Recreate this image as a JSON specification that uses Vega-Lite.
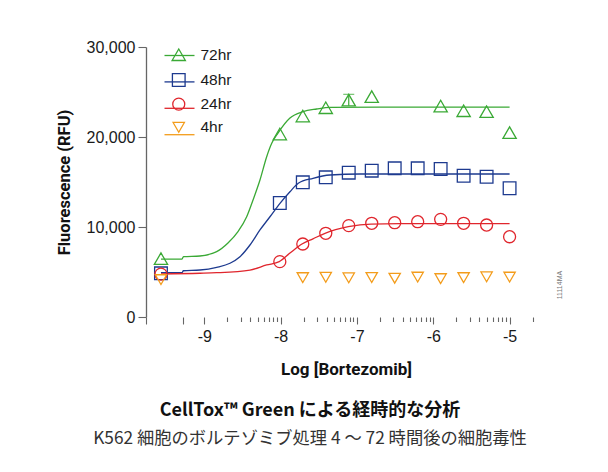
{
  "$schema": "https://vega.github.io/schema/vega-lite/v6.json",
  "width": 400,
  "height": 270,
  "autosize": {"type": "none"},
  "padding": {"left": 146, "top": 47, "right": 62, "bottom": 155},
  "background": "white",
  "config": {
    "view": {"stroke": null},
    "axis": {"grid": false, "labelFont": "Liberation Sans", "labelColor": "#1a1a1a", "domainColor": "#666", "tickColor": "#666", "titleColor": "#111"}
  },
  "title": {
    "text": "CellTox™ Green による経時的な分析",
    "subtitle": "K562 細胞のボルテゾミブ処理 4 ～ 72 時間後の細胞毒性",
    "orient": "bottom", "anchor": "middle", "frame": "group", "dx": -36, "offset": 25,
    "font": "Noto Sans CJK JP", "fontSize": 18, "fontWeight": "bold", "color": "#111",
    "subtitleFont": "Noto Sans CJK JP", "subtitleFontSize": 17.3, "subtitleColor": "#333", "subtitlePadding": 10
  },
  "datasets": {
    "axisline": [
      {"x": -9.763, "x2": -9.274},
      {"x": -9.0, "x2": -4.523}
    ],
    "curves": [
      {"series": "72hr", "x": -9.567, "y": 6440},
      {"series": "72hr", "x": -9.291, "y": 6440},
      {"series": "72hr", "x": -9.272, "y": 6700},
      {"series": "72hr", "x": -9.056, "y": 6780},
      {"series": "72hr", "x": -8.837, "y": 7260},
      {"series": "72hr", "x": -8.689, "y": 8220},
      {"series": "72hr", "x": -8.558, "y": 9480},
      {"series": "72hr", "x": -8.444, "y": 11140},
      {"series": "72hr", "x": -8.361, "y": 13000},
      {"series": "72hr", "x": -8.27, "y": 15220},
      {"series": "72hr", "x": -8.182, "y": 17810},
      {"series": "72hr", "x": -8.116, "y": 19300},
      {"series": "72hr", "x": -8.034, "y": 20440},
      {"series": "72hr", "x": -7.877, "y": 22110},
      {"series": "72hr", "x": -7.706, "y": 22810},
      {"series": "72hr", "x": -7.527, "y": 23110},
      {"series": "72hr", "x": -7.353, "y": 23300},
      {"series": "72hr", "x": -6.7, "y": 23330},
      {"series": "72hr", "x": -5.0, "y": 23330},
      {"series": "48hr", "x": -9.567, "y": 4920},
      {"series": "48hr", "x": -9.291, "y": 4920},
      {"series": "48hr", "x": -9.274, "y": 5140},
      {"series": "48hr", "x": -9.056, "y": 5220},
      {"series": "48hr", "x": -8.837, "y": 5520},
      {"series": "48hr", "x": -8.663, "y": 5970},
      {"series": "48hr", "x": -8.532, "y": 6700},
      {"series": "48hr", "x": -8.401, "y": 8000},
      {"series": "48hr", "x": -8.27, "y": 9670},
      {"series": "48hr", "x": -8.139, "y": 11140},
      {"series": "48hr", "x": -8.008, "y": 12630},
      {"series": "48hr", "x": -7.877, "y": 13920},
      {"series": "48hr", "x": -7.768, "y": 14860},
      {"series": "48hr", "x": -7.575, "y": 15410},
      {"series": "48hr", "x": -7.353, "y": 15780},
      {"series": "48hr", "x": -6.96, "y": 15890},
      {"series": "48hr", "x": -5.0, "y": 15890},
      {"series": "24hr", "x": -9.567, "y": 4780},
      {"series": "24hr", "x": -9.056, "y": 4860},
      {"series": "24hr", "x": -8.837, "y": 4920},
      {"series": "24hr", "x": -8.401, "y": 5220},
      {"series": "24hr", "x": -8.182, "y": 5780},
      {"series": "24hr", "x": -8.017, "y": 6150},
      {"series": "24hr", "x": -7.877, "y": 7100},
      {"series": "24hr", "x": -7.72, "y": 8110},
      {"series": "24hr", "x": -7.576, "y": 8680},
      {"series": "24hr", "x": -7.418, "y": 9300},
      {"series": "24hr", "x": -7.113, "y": 10030},
      {"series": "24hr", "x": -6.816, "y": 10330},
      {"series": "24hr", "x": -6.44, "y": 10370},
      {"series": "24hr", "x": -5.0, "y": 10370}
    ],
    "points": [
      {"series": "72hr", "x": -9.567, "y": 6480},
      {"series": "72hr", "x": -8.01, "y": 20330},
      {"series": "72hr", "x": -7.709, "y": 22330},
      {"series": "72hr", "x": -7.408, "y": 23250},
      {"series": "72hr", "x": -7.107, "y": 24100},
      {"series": "72hr", "x": -6.806, "y": 24480},
      {"series": "72hr", "x": -5.903, "y": 23440},
      {"series": "72hr", "x": -5.602, "y": 22920},
      {"series": "72hr", "x": -5.301, "y": 22810},
      {"series": "72hr", "x": -5.0, "y": 20480},
      {"series": "48hr", "x": -9.567, "y": 4850},
      {"series": "48hr", "x": -8.01, "y": 12670},
      {"series": "48hr", "x": -7.709, "y": 14960},
      {"series": "48hr", "x": -7.408, "y": 15520},
      {"series": "48hr", "x": -7.107, "y": 16040},
      {"series": "48hr", "x": -6.806, "y": 16260},
      {"series": "48hr", "x": -6.505, "y": 16520},
      {"series": "48hr", "x": -6.204, "y": 16520},
      {"series": "48hr", "x": -5.903, "y": 16440},
      {"series": "48hr", "x": -5.602, "y": 15700},
      {"series": "48hr", "x": -5.301, "y": 15590},
      {"series": "48hr", "x": -5.0, "y": 14300},
      {"series": "24hr", "x": -9.567, "y": 4760},
      {"series": "24hr", "x": -8.01, "y": 6150},
      {"series": "24hr", "x": -7.709, "y": 8110},
      {"series": "24hr", "x": -7.408, "y": 9300},
      {"series": "24hr", "x": -7.107, "y": 10150},
      {"series": "24hr", "x": -6.806, "y": 10410},
      {"series": "24hr", "x": -6.505, "y": 10480},
      {"series": "24hr", "x": -6.204, "y": 10590},
      {"series": "24hr", "x": -5.903, "y": 10850},
      {"series": "24hr", "x": -5.602, "y": 10410},
      {"series": "24hr", "x": -5.301, "y": 10220},
      {"series": "24hr", "x": -5.0, "y": 8920},
      {"series": "4hr", "x": -9.567, "y": 4150},
      {"series": "4hr", "x": -7.709, "y": 4370},
      {"series": "4hr", "x": -7.408, "y": 4410},
      {"series": "4hr", "x": -7.107, "y": 4350},
      {"series": "4hr", "x": -6.806, "y": 4380},
      {"series": "4hr", "x": -6.505, "y": 4300},
      {"series": "4hr", "x": -6.204, "y": 4430},
      {"series": "4hr", "x": -5.903, "y": 4260},
      {"series": "4hr", "x": -5.602, "y": 4370},
      {"series": "4hr", "x": -5.301, "y": 4460},
      {"series": "4hr", "x": -5.0, "y": 4430}
    ],
    "errors": [
      {"series": "72hr", "x": -7.107, "lo": 23460, "hi": 24740}
    ],
    "note": [
      {"x": -4.34, "y": 3550, "label": "11114MA"}
    ]
  },
  "encoding": {
    "x": {
      "field": "x", "type": "quantitative",
      "scale": {"domain": [-9.763, -4.523], "nice": false, "zero": false},
      "axis": {
        "title": "Log [Bortezomib]",
        "domain": false,
        "values": [-9.763, -9.274, -9, -8.69897, -8.52288, -8.39794, -8.30103, -8.22185, -8.1549, -8.09691, -8.04576, -8, -7.69897, -7.52288, -7.39794, -7.30103, -7.22185, -7.1549, -7.09691, -7.04576, -7, -6.69897, -6.52288, -6.39794, -6.30103, -6.22185, -6.1549, -6.09691, -6.04576, -6, -5.69897, -5.52288, -5.39794, -5.30103, -5.22185, -5.1549, -5.09691, -5.04576, -5, -4.69897, -4.52288],
        "labelExpr": "abs(datum.value - round(datum.value)) < 0.001 ? toString(round(datum.value)) : ''",
        "labelOverlap": false, "labelFlush": false, "labelBound": false,
        "tickSize": {"condition": {"test": "abs(datum.value - round(datum.value)) < 0.001 || datum.value < -9.1", "value": 7}, "value": 4.5},
        "tickWidth": 1.1,
        "labelFontSize": 16, "labelPadding": 4,
        "titleFont": "Roboto",
        "titleFontSize": 17, "titleFontWeight": "bold", "titlePadding": 17
      }
    },
    "y": {
      "field": "y", "type": "quantitative",
      "scale": {"domain": [0, 30000], "nice": false},
      "axis": {
        "title": "Fluorescence (RFU)",
        "values": [0, 10000, 20000, 30000], "format": ",d",
        "labelOverlap": false, "labelFlush": false,
        "tickSize": 8, "tickWidth": 1.1, "domainWidth": 1.3,
        "labelFontSize": 16, "labelPadding": 3,
        "titleFont": "Roboto",
        "titleFontSize": 16.5, "titleFontWeight": "bold", "titlePadding": 14
      }
    }
  },
  "layer": [
    {
      "data": {"name": "axisline"},
      "mark": {"type": "rule", "color": "#666", "strokeWidth": 1.3},
      "encoding": {"x2": {"field": "x2"}, "y": {"datum": 0}}
    },
    {
      "data": {"name": "curves"},
      "mark": {"type": "line", "interpolate": "monotone", "strokeWidth": 1.3},
      "encoding": {
        "color": {
          "field": "series", "type": "nominal",
          "scale": {"domain": ["72hr", "48hr", "24hr", "4hr"], "range": ["#3aa935", "#1d3a8f", "#e0262d", "#f39c1b"]},
          "legend": {"orient": "none", "legendX": 25, "legendY": 0, "title": null, "padding": 0, "symbolType": "M-2,0H2", "symbolSize": 225, "symbolStrokeWidth": 1.3, "labelExpr": "''", "labelFont": "Liberation Sans", "labelFontSize": 15.5, "rowPadding": 9.4}
        }
      }
    },
    {
      "data": {"name": "errors"},
      "mark": {"type": "rule", "color": "#3aa935", "strokeWidth": 1.2},
      "encoding": {"y": {"field": "lo", "type": "quantitative"}, "y2": {"field": "hi"}}
    },
    {
      "data": {"name": "errors"},
      "mark": {"type": "tick", "orient": "horizontal", "color": "#3aa935", "size": 11, "thickness": 1.2},
      "encoding": {"y": {"field": "hi", "type": "quantitative"}}
    },
    {
      "data": {"name": "points"},
      "mark": {"type": "point", "filled": false, "strokeWidth": 1.3, "opacity": 1},
      "encoding": {
        "stroke": {
          "field": "series", "type": "nominal", "sort": {"field": "y", "op": "max", "order": "descending"},
          "scale": {"range": ["#3aa935", "#1d3a8f", "#e0262d", "#f39c1b"]},
          "legend": {"orient": "none", "legendX": 25, "legendY": 0, "title": null, "padding": 0, "symbolStrokeWidth": 1.3, "symbolFillColor": "transparent", "labelFont": "Liberation Sans", "labelFontSize": 15.5, "labelColor": "#1a1a1a", "labelOffset": 14, "rowPadding": 6.2}
        },
        "shape": {
          "field": "series", "type": "nominal", "sort": {"field": "y", "op": "max", "order": "descending"},
          "scale": {"range": ["triangle-up", "square", "circle", "triangle-down"]},
          "legend": {"orient": "none", "legendX": 25, "legendY": 0, "title": null, "padding": 0, "symbolStrokeWidth": 1.3, "symbolFillColor": "transparent", "labelFont": "Liberation Sans", "labelFontSize": 15.5, "labelColor": "#1a1a1a", "labelOffset": 14, "rowPadding": 6.2}
        },
        "size": {
          "field": "series", "type": "nominal", "sort": {"field": "y", "op": "max", "order": "descending"},
          "scale": {"range": [177, 128, 196, 196]},
          "legend": {"orient": "none", "legendX": 25, "legendY": 0, "title": null, "padding": 0, "symbolStrokeWidth": 1.3, "symbolFillColor": "transparent", "labelFont": "Liberation Sans", "labelFontSize": 15.5, "labelColor": "#1a1a1a", "labelOffset": 14, "rowPadding": 6.2}
        }
      }
    },
    {
      "data": {"name": "note"},
      "mark": {"type": "text", "angle": 270, "fontSize": 7, "color": "#777", "font": "Liberation Sans"},
      "encoding": {"text": {"field": "label"}}
    }
  ]
}
